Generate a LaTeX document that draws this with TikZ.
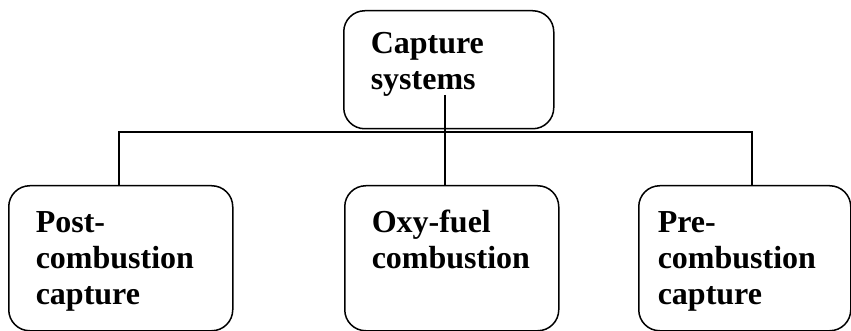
\documentclass[tikz,border=0pt]{standalone}
\usepackage{fontspec}
\setmainfont{Liberation Serif}
\usetikzlibrary{positioning}

\begin{document}
\begin{tikzpicture}[x=1pt, y=1pt, line width=1.5pt]
\tikzset{ block/.style={draw, rounded corners=21pt, anchor=north west, align=left,
                        inner ysep=0pt, font=\fontsize{32}{36}\selectfont\bfseries} };

\useasboundingbox (0,0) rectangle (851,-331);

\node[block, inner xsep=27pt, text width=156pt, text height=43pt, text depth=75pt] (cap) at (343,-10) { Capture\\systems };

\node[block, inner xsep=27pt, text width=170pt, text height=47pt, text depth=98pt] (post) at (8,-185) { Post-\\combustion\\capture };
\node[block, inner xsep=27pt, text width=160pt, text height=47pt, text depth=98pt] (oxy) at (344,-185) { Oxy-fuel\\combustion };
\node[block, inner xsep=19pt, text width=174pt, text height=47pt, text depth=98pt] (pre) at (638,-185) { Pre-\\combustion\\capture };

\coordinate (stem) at (445,-95);
\coordinate (bus) at (445,-132);

\draw (stem) -- (stem |- oxy.north);
\draw ([xshift=-2pt]post.north) |- (bus) -| ([xshift=7pt]pre.north);

\end{tikzpicture}
\end{document}
